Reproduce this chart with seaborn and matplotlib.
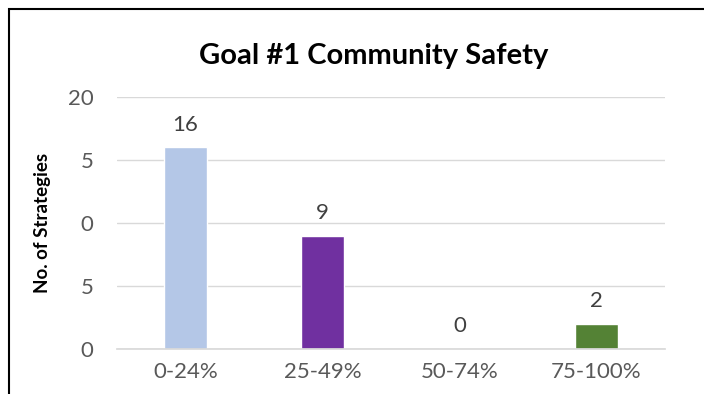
import matplotlib
matplotlib.use("Agg")
import matplotlib.pyplot as plt
import seaborn as sns
import pandas as pd
from matplotlib.patches import Rectangle

# chart values
categories = ["0-24%", "25-49%", "50-74%", "75-100%"]
strategies = [16, 9, 0, 2]
bar_colors = ["#B4C7E7", "#7030A0", "#A5A5A5", "#548235"]
ytick_values = [0, 5, 10, 15, 20]
ytick_labels = ["0", "5", "0", "5", "20"]

df = pd.DataFrame({"Range": categories, "Count": strategies})

sns.set_theme(style="white")
plt.rcParams["font.family"] = ["Lato", "DejaVu Sans"]

fig = plt.figure(figsize=(7.04, 3.94), dpi=100)
ax = fig.add_axes([117 / 704, 1 - 349 / 394, 548 / 704, 252 / 394])

sns.barplot(data=df, x="Range", y="Count", hue="Range", palette=bar_colors,
            width=0.31, legend=False, ax=ax, saturation=1)

for c in ax.containers:
    ax.bar_label(c, fmt="%d", padding=9, fontsize=16, color="#404040")

ax.set_ylim(0, 20)
ax.set_yticks(ytick_values)
ax.set_yticklabels(ytick_labels)
ax.yaxis.grid(True, color="#D9D9D9", linewidth=1)
ax.set_axisbelow(True)
for s in ["top", "right", "left"]:
    ax.spines[s].set_visible(False)
ax.spines["bottom"].set_color("#D9D9D9")
ax.tick_params(axis="both", length=0, labelsize=16, labelcolor="#595959")
ax.tick_params(axis="y", pad=17)
ax.tick_params(axis="x", pad=9)
ax.set_xlabel("")
ax.set_ylabel("No. of Strategies", fontsize=13.5, fontweight="bold", color="black", labelpad=12)

fig.text(374 / 704, 1 - 56 / 394, "Goal #1 Community Safety", ha="center", va="center",
         fontsize=21, fontweight="bold", color="black")

# outer chart frame (cut off at right and bottom edges)
fig.patches.append(Rectangle((9 / 704, -0.1), 1.2, 1 - 9 / 394 + 0.1, transform=fig.transFigure,
                             fill=False, edgecolor="black", linewidth=1.5, clip_on=False))

fig.savefig("out.png", dpi=100)
